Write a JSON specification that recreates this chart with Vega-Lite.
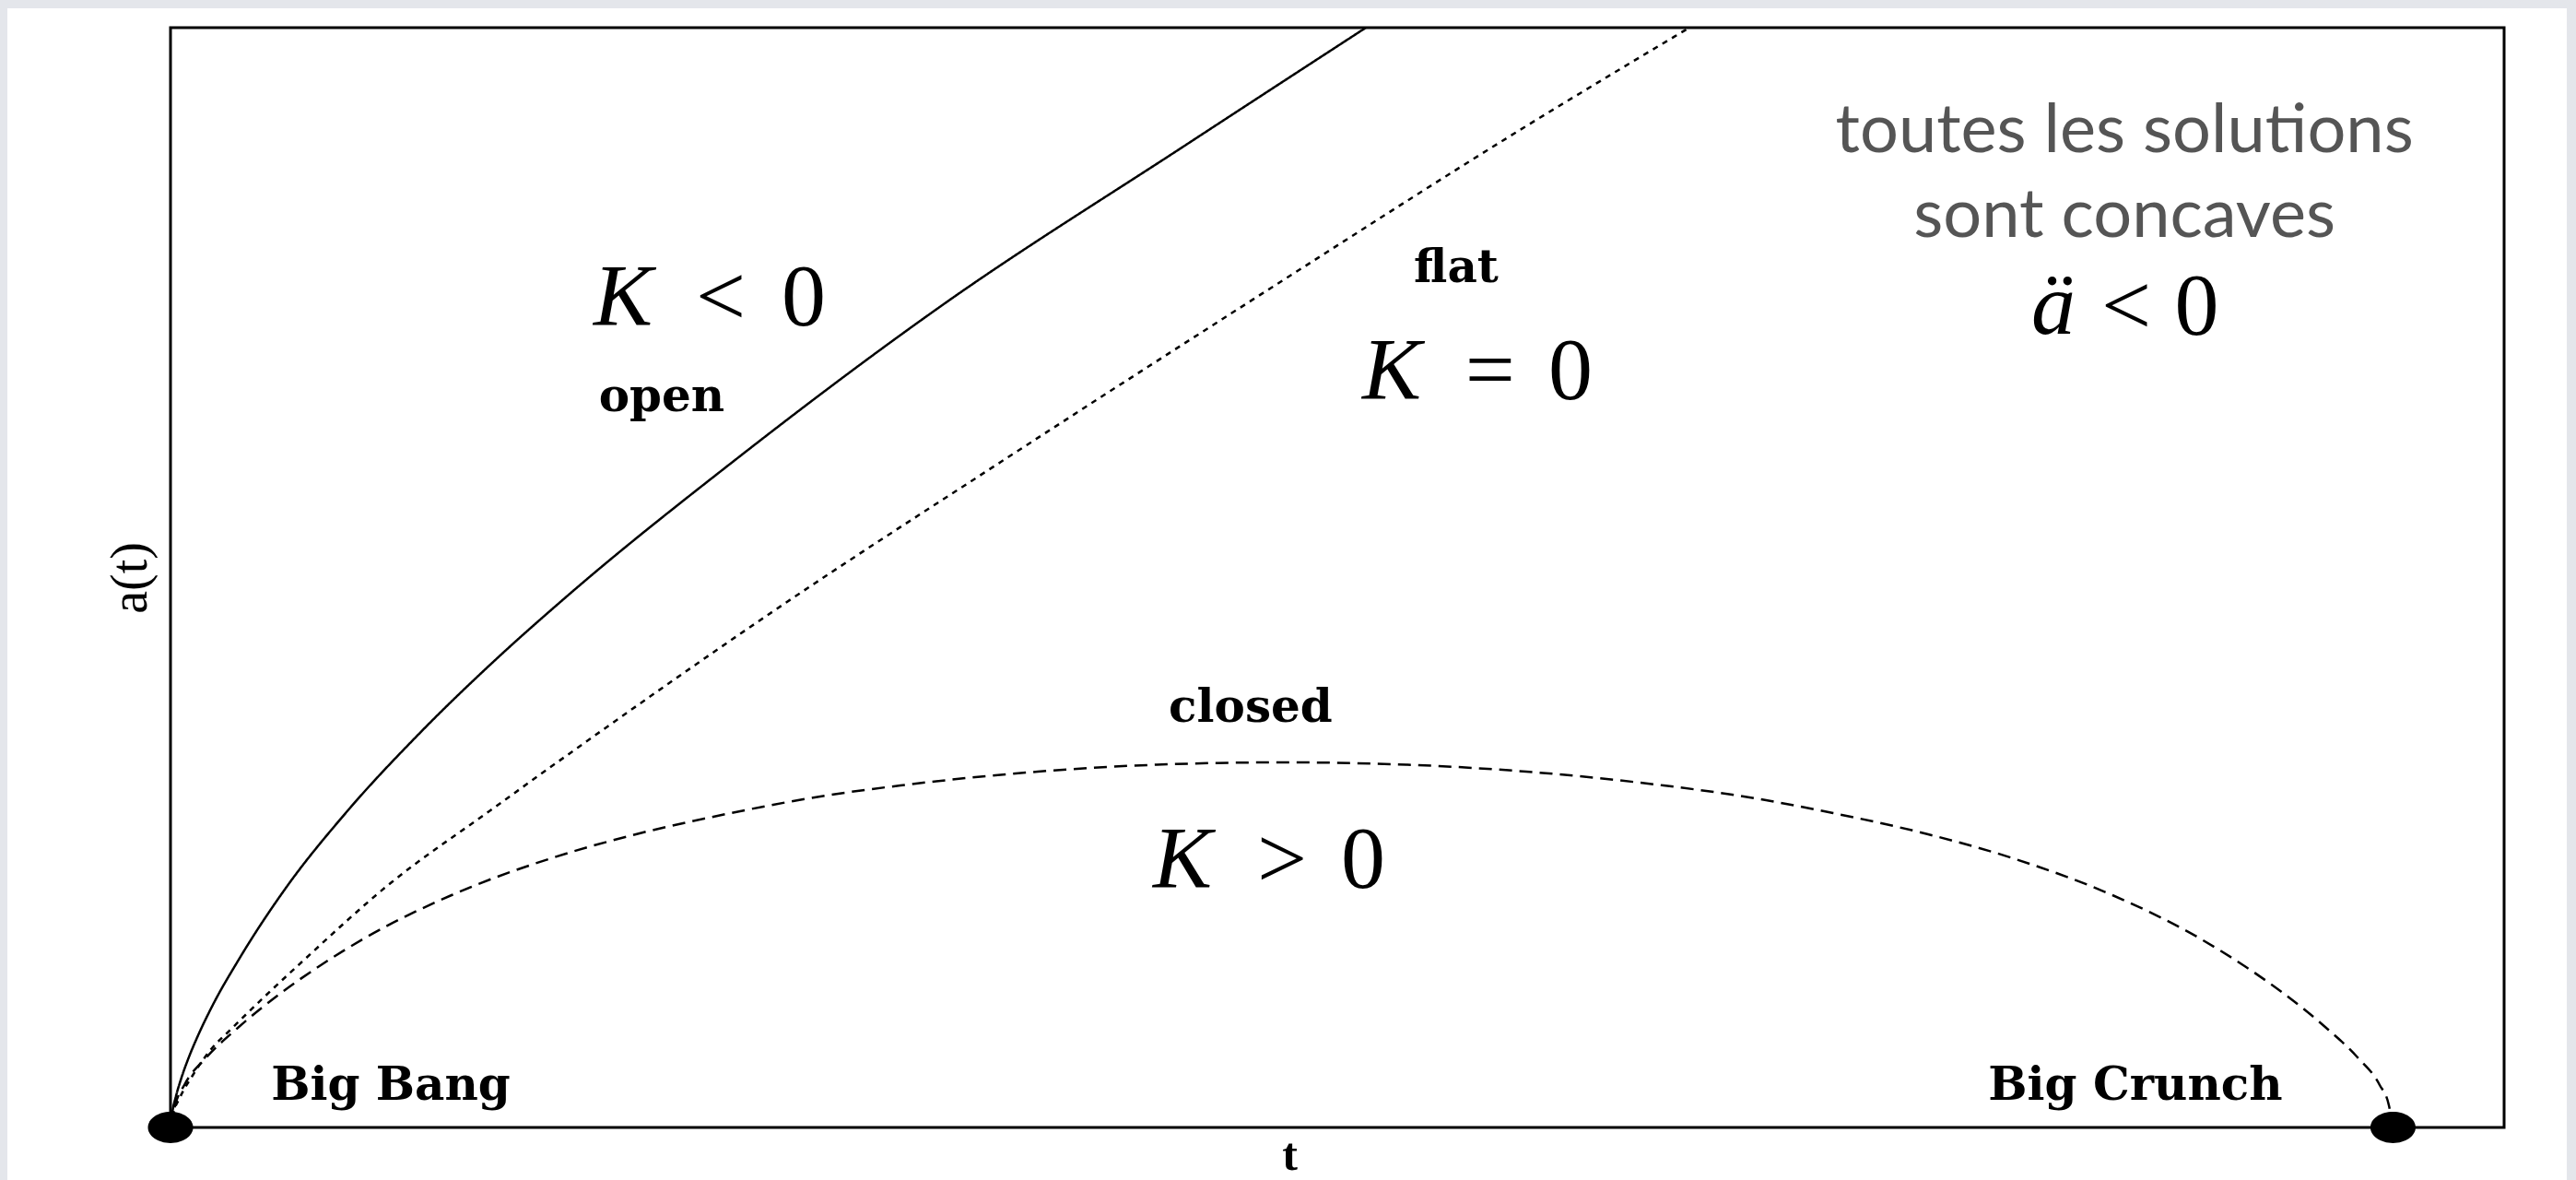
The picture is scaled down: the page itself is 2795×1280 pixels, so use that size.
{
  "$schema": "https://vega.github.io/schema/vega-lite/v6.json",
  "width": 2532,
  "height": 1193,
  "autosize": {"type": "none"},
  "padding": {"left": 185, "top": 30, "right": 78, "bottom": 57},
  "background": "#e4e6eb",
  "config": {"view": {"stroke": null}},
  "datasets": {
    "curves": [
      {"curve": "open", "t": 0, "a": 0},
      {"curve": "open", "t": 0.00083, "a": 0.0412},
      {"curve": "open", "t": 0.00249, "a": 0.086},
      {"curve": "open", "t": 0.00498, "a": 0.1365},
      {"curve": "open", "t": 0.00829, "a": 0.1921},
      {"curve": "open", "t": 0.01161, "a": 0.2402},
      {"curve": "open", "t": 0.01866, "a": 0.3297},
      {"curve": "open", "t": 0.03069, "a": 0.4577},
      {"curve": "open", "t": 0.05225, "a": 0.6563},
      {"curve": "open", "t": 0.07879, "a": 0.8575},
      {"curve": "open", "t": 0.11155, "a": 1.072},
      {"curve": "open", "t": 0.14514, "a": 1.2696},
      {"curve": "open", "t": 0.17832, "a": 1.4487},
      {"curve": "open", "t": 0.25462, "a": 1.8234},
      {"curve": "open", "t": 0.34668, "a": 2.2406},
      {"curve": "open", "t": 0.45699, "a": 2.6806},
      {"curve": "open", "t": 0.53786, "a": 3.0},
      {"curve": "flat", "t": 0, "a": 0},
      {"curve": "flat", "t": 0.00124, "a": 0.0377},
      {"curve": "flat", "t": 0.00415, "a": 0.0805},
      {"curve": "flat", "t": 0.01037, "a": 0.1458},
      {"curve": "flat", "t": 0.01866, "a": 0.2163},
      {"curve": "flat", "t": 0.02613, "a": 0.2615},
      {"curve": "flat", "t": 0.04147, "a": 0.352},
      {"curve": "flat", "t": 0.0593, "a": 0.4526},
      {"curve": "flat", "t": 0.09745, "a": 0.6588},
      {"curve": "flat", "t": 0.14514, "a": 0.8701},
      {"curve": "flat", "t": 0.19491, "a": 1.0863},
      {"curve": "flat", "t": 0.27245, "a": 1.4132},
      {"curve": "flat", "t": 0.37364, "a": 1.8156},
      {"curve": "flat", "t": 0.49473, "a": 2.2883},
      {"curve": "flat", "t": 0.60918, "a": 2.7284},
      {"curve": "flat", "t": 0.68341, "a": 3.0},
      {"curve": "closed", "t": 0, "a": 0},
      {"curve": "closed", "t": 0.00207, "a": 0.0604},
      {"curve": "closed", "t": 0.00622, "a": 0.1157},
      {"curve": "closed", "t": 0.01617, "a": 0.1911},
      {"curve": "closed", "t": 0.03027, "a": 0.2716},
      {"curve": "closed", "t": 0.04976, "a": 0.3671},
      {"curve": "closed", "t": 0.06635, "a": 0.4375},
      {"curve": "closed", "t": 0.08709, "a": 0.5155},
      {"curve": "closed", "t": 0.12648, "a": 0.6337},
      {"curve": "closed", "t": 0.17127, "a": 0.7343},
      {"curve": "closed", "t": 0.20942, "a": 0.7997},
      {"curve": "closed", "t": 0.25213, "a": 0.8575},
      {"curve": "closed", "t": 0.29485, "a": 0.9053},
      {"curve": "closed", "t": 0.32844, "a": 0.9329},
      {"curve": "closed", "t": 0.39023, "a": 0.9706},
      {"curve": "closed", "t": 0.44372, "a": 0.9895},
      {"curve": "closed", "t": 0.50012, "a": 0.9958},
      {"curve": "closed", "t": 0.55652, "a": 0.9895},
      {"curve": "closed", "t": 0.61001, "a": 0.9706},
      {"curve": "closed", "t": 0.6718, "a": 0.9329},
      {"curve": "closed", "t": 0.70539, "a": 0.9053},
      {"curve": "closed", "t": 0.7481, "a": 0.8575},
      {"curve": "closed", "t": 0.79082, "a": 0.7997},
      {"curve": "closed", "t": 0.82897, "a": 0.7343},
      {"curve": "closed", "t": 0.87376, "a": 0.6337},
      {"curve": "closed", "t": 0.91315, "a": 0.5155},
      {"curve": "closed", "t": 0.93389, "a": 0.4375},
      {"curve": "closed", "t": 0.95048, "a": 0.3671},
      {"curve": "closed", "t": 0.96996, "a": 0.2716},
      {"curve": "closed", "t": 0.98406, "a": 0.1911},
      {"curve": "closed", "t": 0.99401, "a": 0.1157},
      {"curve": "closed", "t": 0.99816, "a": 0.0604},
      {"curve": "closed", "t": 1.0, "a": 0}
    ],
    "events": [
      {"event": "Big Bang", "t": 0, "a": 0},
      {"event": "Big Crunch", "t": 1.0, "a": 0}
    ],
    "labels": [
      {"style": "note", "text": "toutes les solutions", "t": 0.8792, "a": 2.6604},
      {"style": "note", "text": "sont concaves", "t": 0.8792, "a": 2.4291},
      {"style": "word", "text": "Big Bang", "t": 0.0991, "a": 0.0754},
      {"style": "word", "text": "Big Crunch", "t": 0.8841, "a": 0.0754},
      {"style": "word", "text": "open", "t": 0.221, "a": 1.954},
      {"style": "word", "text": "flat", "t": 0.5785, "a": 2.306},
      {"style": "word", "text": "closed", "t": 0.486, "a": 1.1064},
      {"style": "mathit", "text": "K", "t": 0.2036, "a": 2.1877},
      {"style": "math", "text": "<", "t": 0.2476, "a": 2.1877},
      {"style": "math", "text": "0", "t": 0.2849, "a": 2.1877},
      {"style": "mathit", "text": "K", "t": 0.5495, "a": 1.9866},
      {"style": "math", "text": "=", "t": 0.5938, "a": 1.9866},
      {"style": "math", "text": "0", "t": 0.6299, "a": 1.9866},
      {"style": "mathit", "text": "K", "t": 0.4553, "a": 0.6538},
      {"style": "math", "text": ">", "t": 0.5001, "a": 0.6538},
      {"style": "math", "text": "0", "t": 0.5366, "a": 0.6538},
      {"style": "mathit", "text": "ä", "t": 0.8472, "a": 2.1626},
      {"style": "math", "text": "<", "t": 0.88, "a": 2.1626},
      {"style": "math", "text": "0", "t": 0.9117, "a": 2.1626}
    ]
  },
  "layer": [
    {
      "data": {"values": [{}]},
      "mark": {"type": "rect", "fill": "white", "clip": false},
      "encoding": {
        "x": {"datum": -0.0734, "type": "quantitative", "scale": {"domain": [0, 1.05], "nice": false, "zero": false}},
        "x2": {"datum": 1.0782},
        "y": {"datum": 3.0528, "type": "quantitative", "scale": {"domain": [0, 3], "nice": false, "zero": false}},
        "y2": {"datum": -0.1433}
      }
    },
    {
      "data": {"values": [{}]},
      "mark": {"type": "rect", "fill": null, "stroke": "black", "strokeWidth": 3, "clip": false},
      "encoding": {
        "x": {"datum": 0, "type": "quantitative", "scale": {"domain": [0, 1.05], "nice": false, "zero": false}},
        "x2": {"datum": 1.05},
        "y": {"datum": 0, "type": "quantitative", "scale": {"domain": [0, 3], "nice": false, "zero": false}},
        "y2": {"datum": 3}
      }
    },
    {
      "data": {"name": "curves"},
      "mark": {"type": "line", "interpolate": "monotone", "color": "black", "strokeWidth": 2.5, "clip": true},
      "encoding": {
        "x": {
          "field": "t", "type": "quantitative",
          "scale": {"domain": [0, 1.05], "nice": false, "zero": false},
          "axis": {"title": "t", "domain": false, "ticks": false, "labels": false, "grid": false, "zindex": 2,
                   "titleFont": "Liberation Serif", "titleFontSize": 50, "titleFontWeight": "bold",
                   "titleColor": "black", "titlePadding": 5, "titleX": 1214}
        },
        "y": {
          "field": "a", "type": "quantitative",
          "scale": {"domain": [0, 3], "nice": false, "zero": false},
          "axis": {"title": "a(t)", "domain": false, "ticks": false, "labels": false, "grid": false, "zindex": 2,
                   "titleFont": "Liberation Serif", "titleFontSize": 56, "titleFontWeight": "normal",
                   "titleColor": "black", "titlePadding": 15}
        },
        "detail": {"field": "curve"},
        "strokeDash": {
          "field": "curve", "type": "nominal", "legend": null,
          "scale": {"domain": ["open", "flat", "closed"], "range": [[1, 0], [6, 6], [14, 8]]}
        }
      }
    },
    {
      "data": {"name": "events"},
      "mark": {"type": "point", "filled": true, "color": "black", "opacity": 1, "size": 2401,
               "shape": "M-1,0A1,0.69,0,1,0,1,0A1,0.69,0,1,0,-1,0Z", "clip": false},
      "encoding": {
        "x": {"field": "t", "type": "quantitative", "scale": {"domain": [0, 1.05], "nice": false, "zero": false}},
        "y": {"field": "a", "type": "quantitative", "scale": {"domain": [0, 3], "nice": false, "zero": false}}
      }
    },
    {
      "data": {"name": "labels"},
      "transform": [{"filter": "datum.style === 'note'"}],
      "mark": {"type": "text", "font": "Lato", "fontSize": 74, "color": "#555555", "align": "center", "baseline": "alphabetic"},
      "encoding": {
        "x": {"field": "t", "type": "quantitative", "scale": {"domain": [0, 1.05], "nice": false, "zero": false}},
        "y": {"field": "a", "type": "quantitative", "scale": {"domain": [0, 3], "nice": false, "zero": false}},
        "text": {"field": "text"}
      }
    },
    {
      "data": {"name": "labels"},
      "transform": [{"filter": "datum.style === 'word'"}],
      "mark": {"type": "text", "font": "DejaVu Serif", "fontWeight": "bold", "fontSize": 50, "color": "black", "align": "center", "baseline": "alphabetic"},
      "encoding": {
        "x": {"field": "t", "type": "quantitative", "scale": {"domain": [0, 1.05], "nice": false, "zero": false}},
        "y": {"field": "a", "type": "quantitative", "scale": {"domain": [0, 3], "nice": false, "zero": false}},
        "text": {"field": "text"}
      }
    },
    {
      "data": {"name": "labels"},
      "transform": [{"filter": "datum.style === 'mathit'"}],
      "mark": {"type": "text", "font": "Liberation Serif", "fontStyle": "italic", "fontSize": 96, "color": "black", "align": "center", "baseline": "alphabetic"},
      "encoding": {
        "x": {"field": "t", "type": "quantitative", "scale": {"domain": [0, 1.05], "nice": false, "zero": false}},
        "y": {"field": "a", "type": "quantitative", "scale": {"domain": [0, 3], "nice": false, "zero": false}},
        "text": {"field": "text"}
      }
    },
    {
      "data": {"name": "labels"},
      "transform": [{"filter": "datum.style === 'math'"}],
      "mark": {"type": "text", "font": "Liberation Serif", "fontSize": 96, "color": "black", "align": "center", "baseline": "alphabetic"},
      "encoding": {
        "x": {"field": "t", "type": "quantitative", "scale": {"domain": [0, 1.05], "nice": false, "zero": false}},
        "y": {"field": "a", "type": "quantitative", "scale": {"domain": [0, 3], "nice": false, "zero": false}},
        "text": {"field": "text"}
      }
    }
  ]
}
